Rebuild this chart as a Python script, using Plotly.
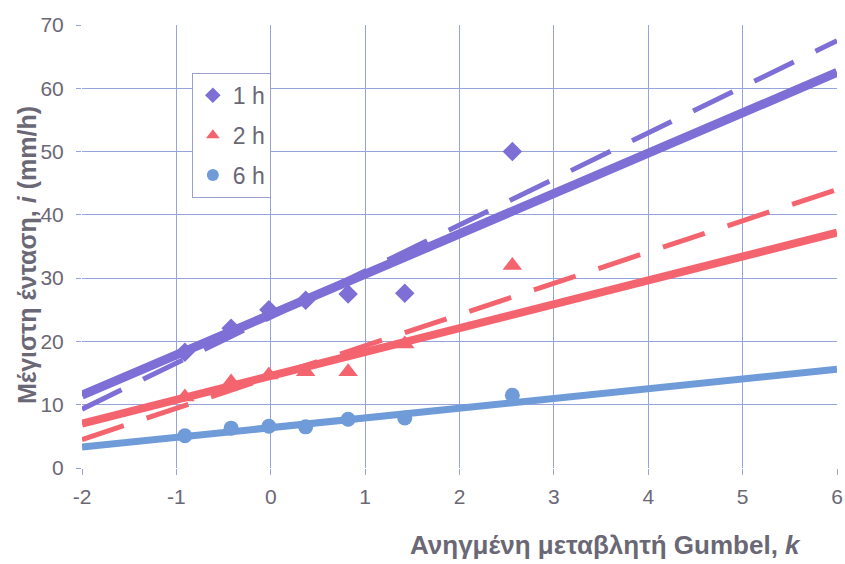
import plotly.graph_objects as go

# Data
k_obs = [-0.91, -0.42, -0.02, 0.37, 0.82, 1.42, 2.56]
i_1h = [18.3, 22.1, 25.0, 26.5, 27.5, 27.6, 50.0]
i_2h = [11.2, 13.6, 14.7, 15.2, 15.2, 19.6, 32.0]
i_6h = [5.1, 6.3, 6.6, 6.5, 7.7, 7.9, 11.5]

k_line = [-2, 6]
fit_1h = [11.5, 62.5]
dash_1h = [9.3, 67.5]
fit_2h = [7.0, 37.2]
dash_2h = [4.5, 44.0]
fit_6h = [3.3, 15.6]

x_ticks = [-2, -1, 0, 1, 2, 3, 4, 5, 6]
x_tick_text = ["-2", "-1", "0", "1", "2", "3", "4", "5", "6"]

C1 = "#7d6fd6"
C2 = "#f4646f"
C3 = "#6f9bd8"
GRID = "#97a3dc"
TXT = "#6b6876"

fig = go.Figure()
fig.add_trace(go.Scatter(x=k_line, y=fit_1h, mode="lines", line=dict(color=C1, width=9), showlegend=False))
fig.add_trace(go.Scatter(x=k_line, y=dash_1h, mode="lines", line=dict(color=C1, width=5, dash="44px,24px"), showlegend=False))
fig.add_trace(go.Scatter(x=k_line, y=fit_2h, mode="lines", line=dict(color=C2, width=8), showlegend=False))
fig.add_trace(go.Scatter(x=k_line, y=dash_2h, mode="lines", line=dict(color=C2, width=5, dash="44px,24px"), showlegend=False))
fig.add_trace(go.Scatter(x=k_line, y=fit_6h, mode="lines", line=dict(color=C3, width=7), showlegend=False))

fig.add_trace(go.Scatter(x=k_obs, y=i_1h, mode="markers", name="1 h", legendgroup="a",
                         marker=dict(symbol="diamond", color=C1, size=15)))
fig.add_trace(go.Scatter(x=k_obs, y=i_2h, mode="markers", name="2 h", legendgroup="b",
                         marker=dict(symbol="triangle-up", color=C2, size=17)))
fig.add_trace(go.Scatter(x=k_obs, y=i_6h, mode="markers", name="6 h", legendgroup="c",
                         marker=dict(symbol="circle", color=C3, size=15)))

fig.update_layout(
    width=845, height=564,
    margin=dict(l=82, r=8, t=25, b=96, autoexpand=False),
    paper_bgcolor="white", plot_bgcolor="white",
    font=dict(family="Liberation Sans, Arial, sans-serif", color=TXT, size=21),
    legend=dict(x=0.1455, y=0.892, xanchor="left", yanchor="top",
                bgcolor="white", bordercolor="#9aa0c8", borderwidth=1,
                font=dict(size=23, color=TXT), itemsizing="constant",
                tracegroupgap=7),
    xaxis=dict(range=[-2, 6], tickvals=x_ticks, ticktext=x_tick_text,
               showgrid=True, gridcolor=GRID, gridwidth=1, automargin=False,
               zeroline=False, ticks="outside", ticklen=6, tickcolor=GRID,
               ticklabelstandoff=4, showline=False),
    yaxis=dict(range=[0, 70], dtick=10, showgrid=True, gridcolor=GRID, gridwidth=1,
               automargin=False, zeroline=False, ticks="outside", ticklen=5,
               tickcolor=GRID, ticklabelstandoff=8, showline=False),
)
fig.add_annotation(xref="paper", yref="paper", x=0.693, y=-0.174,
                   text="<b>Ανηγμένη μεταβλητή Gumbel, <i>k</i></b>",
                   showarrow=False, font=dict(size=26, color=TXT),
                   xanchor="center", yanchor="middle")
fig.add_annotation(xref="paper", yref="paper", x=-0.0728, y=0.481,
                   text="<b>Μέγιστη ένταση, <i>i</i> (mm/h)</b>", textangle=-90,
                   showarrow=False, font=dict(size=25, color=TXT),
                   xanchor="center", yanchor="middle")

fig.write_html("out.html", config={"displayModeBar": False},
               post_script="document.body.style.margin='0';document.body.style.overflow='hidden';")
